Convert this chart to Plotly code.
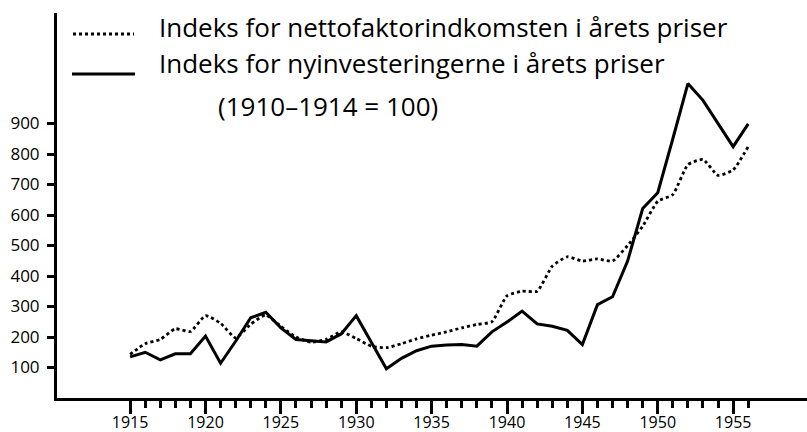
import plotly.graph_objects as go

years = list(range(1915, 1957))
netto_index = [143, 178, 192, 227, 218, 270, 245, 197, 242, 272,
               235, 200, 183, 192, 217, 195, 170, 165, 178, 194,
               206, 217, 230, 241, 250, 335, 350, 350, 432, 463,
               449, 456, 449, 500, 563, 645, 667, 765, 782, 730,
               748, 824]
invest_index = [135, 150, 125, 145, 145, 203, 114, 186, 263, 281,
                230, 192, 188, 184, 210, 270, 183, 96, 130, 155,
                170, 174, 175, 170, 217, 249, 285, 243, 235, 222,
                175, 306, 332, 449, 621, 673, 850, 1031, 976, 900,
                824, 899]
y_ticks = [100, 200, 300, 400, 500, 600, 700, 800, 900]
x_ticks = [1915, 1920, 1925, 1930, 1935, 1940, 1945, 1950, 1955]
x_minor = [y for y in years if y not in x_ticks]
legend_labels = ["Indeks for nettofaktorindkomsten i årets priser",
                 "Indeks for nyinvesteringerne i årets priser",
                 "(1910–1914 = 100)"]

FONT = "Open Sans, Liberation Sans, Arial, sans-serif"

fig = go.Figure()
fig.add_trace(go.Scatter(x=years, y=netto_index, mode="lines",
                         line=dict(color="black", width=2.8, dash="dot",
                                   shape="spline", smoothing=0.5),
                         showlegend=False))
fig.add_trace(go.Scatter(x=years, y=invest_index, mode="lines",
                         line=dict(color="black", width=3),
                         showlegend=False))

W, H = 807, 432
ml, mr, mt, mb = 57, 0, 13, 34
pw, ph = W - ml - mr, H - mt - mb

def px(xp):
    return (xp - ml) / pw

def py(yp):
    return (H - mb - yp) / ph

# legend samples
fig.add_shape(type="line", xref="paper", yref="paper",
              x0=px(73), x1=px(134), y0=py(34), y1=py(34),
              line=dict(color="black", width=2.8, dash="dot"))
fig.add_shape(type="line", xref="paper", yref="paper",
              x0=px(72), x1=px(135), y0=py(74), y1=py(74),
              line=dict(color="black", width=3))

for txt, x0, yc in [(legend_labels[0], 157, 27),
                    (legend_labels[1], 157, 63),
                    (legend_labels[2], 216, 106)]:
    fig.add_annotation(text=txt, xref="paper", yref="paper",
                       x=px(x0), y=py(yc), xanchor="left", yanchor="middle",
                       showarrow=False,
                       font=dict(family=FONT, size=26, color="black"))

fig.update_layout(
    width=W, height=H,
    margin=dict(l=ml, r=mr, t=mt, b=mb, pad=0, autoexpand=False),
    plot_bgcolor="white", paper_bgcolor="white",
    font=dict(family=FONT, color="black"),
    xaxis=dict(range=[1910.15, 1959.9], showgrid=False, zeroline=False,
               automargin=False,
               showline=True, linecolor="black", linewidth=3,
               tickmode="array", tickvals=x_ticks,
               ticktext=[str(t) for t in x_ticks],
               ticks="outside", ticklen=13, tickwidth=2.5, tickcolor="black",
               ticklabelstandoff=-5,
               tickfont=dict(family=FONT, size=16, color="black"),
               minor=dict(tickmode="array", tickvals=x_minor, ticks="outside",
                          ticklen=7, tickwidth=2.5, tickcolor="black",
                          showgrid=False)),
    yaxis=dict(range=[0, ph / 0.305], showgrid=False, zeroline=False,
               automargin=False,
               showline=True, linecolor="black", linewidth=3,
               tickmode="array", tickvals=y_ticks,
               ticktext=[str(t) for t in y_ticks],
               ticks="outside", ticklen=7, tickwidth=2.5, tickcolor="black",
               ticklabelstandoff=4,
               tickfont=dict(family=FONT, size=17, color="black")),
)

fig.write_html("out.html", config={"displayModeBar": False},
               post_script="document.body.style.margin='0';"
                           "document.body.style.overflow='hidden';")
